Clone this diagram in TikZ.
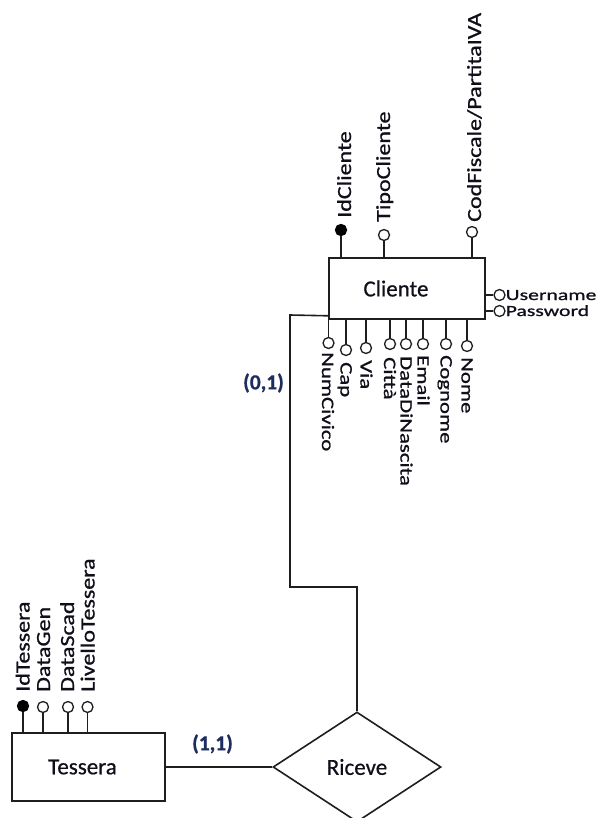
\documentclass[tikz,border=0pt]{standalone}
\usepackage{fontspec}
\usetikzlibrary{shapes.geometric}
\setmainfont{Carlito}
\newfontfamily\famTop[FakeStretch=1.2,FakeBold=0.9]{Carlito}
\newfontfamily\famBot[FakeStretch=1.3,FakeBold=0.9]{Carlito}
\newfontfamily\famSide[FakeStretch=1.4,FakeBold=0.9]{Carlito}
\newfontfamily\famEnt[FakeBold=0.6]{Carlito}
\newcommand\fTop{\famTop\fontsize{20}{24}\selectfont}
\newcommand\fBot{\famBot\fontsize{17.5}{21}\selectfont}
\newcommand\fSide{\famSide\fontsize{15.5}{18}\selectfont}
\newcommand\fEnt{\famEnt\fontsize{23}{27}\selectfont}
\newcommand\fCard{\famEnt\bfseries\fontsize{21.5}{25}\selectfont}
\definecolor{lc}{RGB}{30,30,30}
\definecolor{tc}{RGB}{15,15,25}
\definecolor{cc}{RGB}{30,45,95}
\begin{document}
\begin{tikzpicture}[x=1pt,y=-1pt,
  ln/.style={draw=lc, line width=1.6pt},
  entity/.style={draw=lc, line width=1.6pt, rectangle, inner sep=0pt, font=\fEnt, text=tc},
  rel/.style={draw=lc, line width=1.6pt, diamond, inner sep=0pt, aspect=1.527, minimum width=168pt, minimum height=110pt, font=\fEnt, text=tc},
  attro/.style={circle, draw=lc, fill=white, line width=1.3pt, minimum size=11pt, inner sep=0pt},
  attrk/.style={attro, fill=black, draw=black},
  toplab/.style={rotate=90, anchor=base west, inner sep=0pt, font=\fTop, text=tc},
  botlab/.style={rotate=-90, anchor=base west, inner sep=0pt, font=\fBot, text=tc},
  sidelab/.style={anchor=base west, inner sep=0pt, font=\fSide, text=tc},
  card/.style={font=\fCard, text=cc, inner sep=0pt}]
\fill[white] (0,0) rectangle (605,818);
\path[clip] (0,0) rectangle (605,818);
\useasboundingbox (0,0) rectangle (605,818);

% Entities
\node[entity, minimum width=156pt, minimum height=61pt] (cliente) at (407,288.5) {\hspace*{-22pt}Cliente};
\node[entity, minimum width=153pt, minimum height=68pt] (tessera) at (88.5,767) {\hspace*{-12pt}Tessera};
\node[rel] (riceve) at (357,767) {Riceve};

% Cliente top attributes
\node[attrk] (idc) at (341,230) {};
\node[attro] (tipo) at (384,235) {};
\node[attro] (codf) at (472,232) {};
\draw[ln] (idc) -- (idc |- cliente.north);
\draw[ln] (tipo) -- (tipo |- cliente.north);
\draw[ln] (codf) -- (codf |- cliente.north);
\node[toplab] (lidc) at (351,218) {IdCliente};
\node[toplab] (ltipo) at (390,222) {TipoCliente};
\node[toplab] (lcodf) at (481,222) {CodFiscale/PartitaIVA};

% Cliente right attributes
\node[attro] (usr) at (499.5,295) {};
\node[attro] (pwd) at (499.5,311) {};
\draw[ln] (usr) -- (usr -| cliente.east);
\draw[ln] (pwd) -- (pwd -| cliente.east);
\node[sidelab] (lusr) at (505.5,300) {Username};
\node[sidelab] (lpwd) at (505.5,316) {Password};

% Cliente bottom attributes
\node[attro] (b1) at (328.5,343) {};
\node[attro] (b2) at (346,350) {};
\node[attro] (b3) at (366,348) {};
\node[attro] (b4) at (390,344) {};
\node[attro] (b5) at (406,344) {};
\node[attro] (b6) at (423,344) {};
\node[attro] (b7) at (446,344) {};
\node[attro] (b8) at (467,346) {};
\foreach \b in {b1,b2,b3,b4,b5,b6,b7,b8}{\draw[ln] (\b) -- (\b |- cliente.south);}
\node[botlab] (lb1) at (322,352) {NumCivico};
\node[botlab] (lb2) at (340.5,362) {Cap};
\node[botlab] (lb3) at (360.5,360) {Via};
\node[botlab] (lb4) at (384,357) {Città};
\node[botlab] (lb5) at (400.5,356) {DataDiNascita};
\node[botlab] (lb6) at (417.5,355) {Email};
\node[botlab] (lb7) at (440.5,355) {Cognome};
\node[botlab] (lb8) at (461.5,357) {Nome};

% Tessera attributes
\node[attrk] (idt) at (23,706) {};
\node[attro] (dgen) at (43,707) {};
\node[attro] (dscad) at (68,707) {};
\node[attro] (liv) at (87.5,707) {};
\foreach \t in {idt,dgen,dscad,liv}{\draw[ln] (\t) -- (\t |- tessera.north);}
\node[toplab] (lidt) at (29.5,692) {IdTessera};
\node[toplab] (ldgen) at (50,692) {DataGen};
\node[toplab] (ldscad) at (74,692) {DataScad};
\node[toplab] (lliv) at (94.5,692) {LivelloTessera};

% Connectors
\coordinate (k1) at (290,315);
\coordinate (k2) at (290,587);
\draw[ln] ([yshift=4pt]cliente.south west) -- (k1) -- (k2) -| (riceve.north);
\draw[ln] (tessera.east) -- (riceve.west);

% Cardinalities
\node[card] (c01) at (263.5,383) {(0,1)};
\node[card] (c11) at (212.5,744) {(1,1)};
\end{tikzpicture}
\end{document}
